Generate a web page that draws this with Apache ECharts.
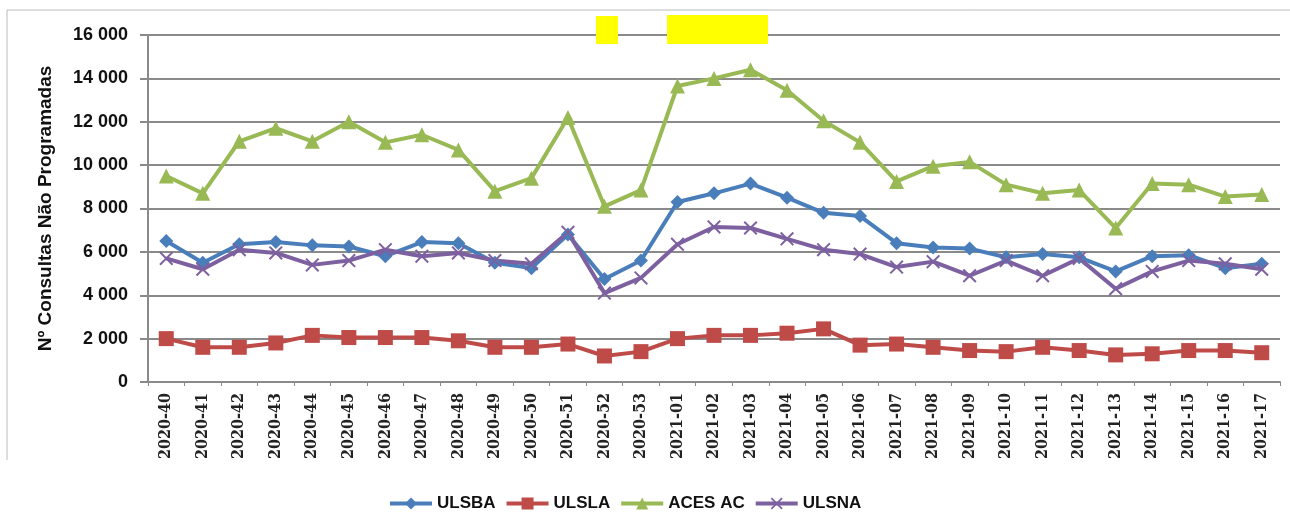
<!DOCTYPE html>
<html>
<head>
<meta charset="utf-8">
<script src="https://cdn.jsdelivr.net/npm/echarts@6/dist/echarts.min.js"></script>
<style>
  html, body { margin: 0; padding: 0; background: #fff; }
  #chart { width: 1290px; height: 530px; }
</style>
</head>
<body>
<div id="chart"></div>
<script>
// semanas
var weeks = [
  '2020-40', '2020-41', '2020-42', '2020-43', '2020-44', '2020-45', '2020-46', '2020-47',
  '2020-48', '2020-49', '2020-50', '2020-51', '2020-52', '2020-53',
  '2021-01', '2021-02', '2021-03', '2021-04', '2021-05', '2021-06', '2021-07', '2021-08',
  '2021-09', '2021-10', '2021-11', '2021-12', '2021-13', '2021-14', '2021-15', '2021-16', '2021-17'
];

var ulsba = [6500, 5500, 6350, 6450, 6300, 6250, 5800, 6450, 6400, 5500, 5250, 6800, 4750, 5600,
  8300, 8700, 9150, 8500, 7800, 7650, 6400, 6200, 6150, 5750, 5900, 5750, 5100, 5800, 5850, 5250, 5450];
var ulsla = [2000, 1600, 1600, 1800, 2150, 2050, 2050, 2050, 1900, 1600, 1600, 1750, 1200, 1400,
  2000, 2150, 2150, 2250, 2450, 1700, 1750, 1600, 1450, 1400, 1600, 1450, 1250, 1300, 1450, 1450, 1350];
var acesAc = [9500, 8700, 11100, 11700, 11100, 12000, 11050, 11400, 10700, 8800, 9400, 12200, 8100, 8850,
  13650, 14000, 14400, 13450, 12050, 11050, 9250, 9950, 10150, 9100, 8700, 8850, 7100, 9150, 9100, 8550, 8650];
var ulsna = [5700, 5200, 6100, 5950, 5400, 5600, 6100, 5800, 5950, 5600, 5450, 6900, 4100, 4800,
  6350, 7150, 7100, 6600, 6100, 5900, 5300, 5550, 4900, 5600, 4900, 5700, 4300, 5100, 5600, 5450, 5200];

var crossPath = 'path://M0,1L1,0L5,4L9,0L10,1L6,5L10,9L9,10L5,6L1,10L0,9L4,5Z';

function serie(name, data, color, symbol, size) {
  return {
    name: name,
    type: 'line',
    data: data,
    symbol: symbol,
    symbolSize: size,
    showAllSymbol: true,
    lineStyle: { color: color, width: 4 },
    itemStyle: { color: color },
    emphasis: { disabled: true },
  };
}

var chart = echarts.init(document.getElementById('chart'));
chart.setOption({
  animation: false,
  textStyle: { fontFamily: 'Liberation Sans' },
  graphic: [
    // moldura
    { type: 'line', shape: { x1: 7, y1: 10, x2: 1290, y2: 10 }, style: { stroke: '#bbb', lineWidth: 1 } },
    { type: 'line', shape: { x1: 7, y1: 10, x2: 7, y2: 460 }, style: { stroke: '#bbb', lineWidth: 1 } },
    // marcas amarelas
    { type: 'rect', shape: { x: 596, y: 16, width: 22, height: 28 }, style: { fill: '#ffff00' }, z: 100 },
    { type: 'rect', shape: { x: 667, y: 15, width: 101, height: 29 }, style: { fill: '#ffff00' }, z: 100 },
  ],
  legend: {
    bottom: 13,
    left: 383,
    itemWidth: 42,
    itemHeight: 15,
    itemGap: 9,
    lineStyle: { width: 4 },
    textStyle: { fontSize: 17, fontWeight: 'bold', color: '#111', fontFamily: 'Liberation Sans' },
    data: ['ULSBA', 'ULSLA', 'ACES AC', 'ULSNA'],
  },
  grid: { left: 148, right: 10, top: 35, bottom: 148 },
  xAxis: {
    type: 'category',
    data: weeks,
    boundaryGap: true,
    axisLine: { lineStyle: { color: '#8a8a8a', width: 2 } },
    axisTick: { show: true, length: 4, lineStyle: { color: '#8a8a8a' } },
    axisLabel: {
      rotate: 90,
      interval: 0,
      margin: 11,
      fontSize: 16,
      fontWeight: 'bold',
      color: '#222',
      fontFamily: 'DejaVu Serif Condensed',
    },
  },
  yAxis: {
    type: 'value',
    min: 0,
    max: 16000,
    interval: 2000,
    name: 'Nº Consultas Não Programadas',
    nameLocation: 'middle',
    nameGap: 93,
    nameTextStyle: { fontSize: 19, fontWeight: 'bold', color: '#111' },
    axisLine: { show: true, lineStyle: { color: '#8a8a8a', width: 2 } },
    axisTick: { show: true, length: 8, lineStyle: { color: '#8a8a8a', width: 2 } },
    axisLabel: {
      fontSize: 18,
      fontWeight: 'bold',
      color: '#111',
      margin: 20,
      formatter: function (v) {
        return String(v).replace(/\B(?=(\d{3})+(?!\d))/g, ' ');
      },
    },
    splitLine: { lineStyle: { color: '#8a8a8a', width: 2 } },
  },
  series: [
    serie('ULSBA', ulsba, '#4a7ebb', 'diamond', 14),
    serie('ULSLA', ulsla, '#be4b48', 'rect', 15),
    serie('ACES AC', acesAc, '#98b954', 'triangle', 15),
    serie('ULSNA', ulsna, '#7d60a0', crossPath, 14),
  ],
});
</script>
</body>
</html>
